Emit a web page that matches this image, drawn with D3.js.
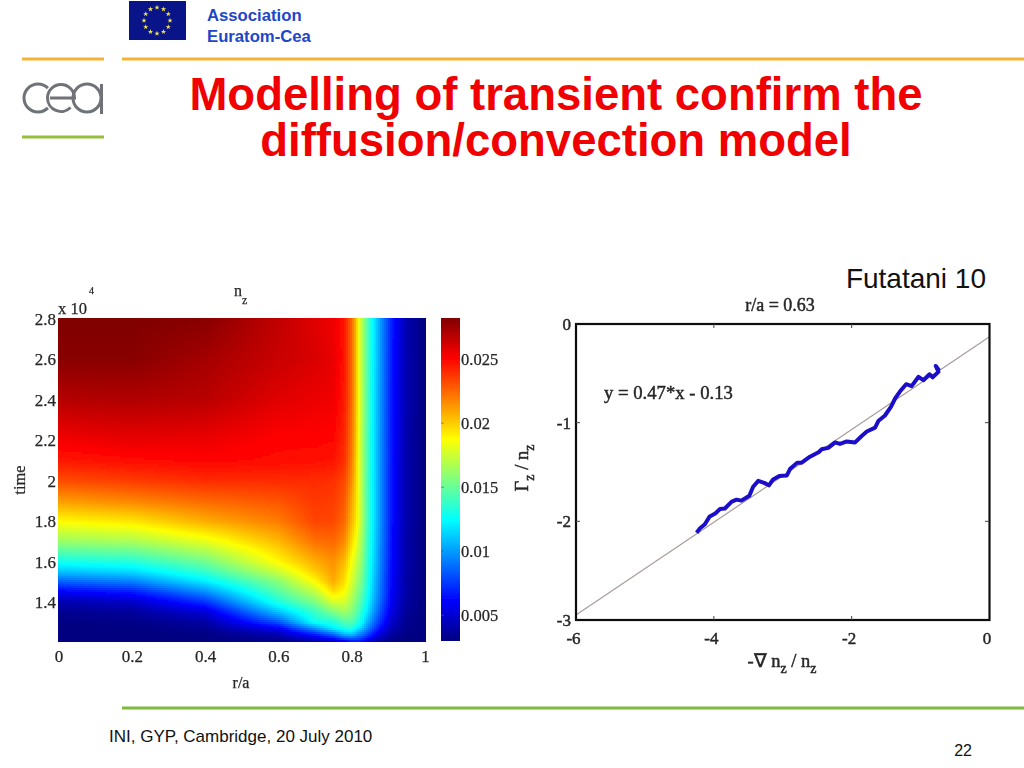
<!DOCTYPE html>
<html><head><meta charset="utf-8">
<script src="https://cdn.jsdelivr.net/npm/d3@7"></script>
<style>
html,body{margin:0;padding:0;background:#fff;overflow:hidden}
svg{display:block}
text{font-family:"Liberation Sans",Arial,sans-serif}
.s text{font-family:"Liberation Serif","Times New Roman",serif;fill:#262626;stroke:#262626;stroke-width:.25}
.s.r text{stroke-width:.45}
</style></head><body>
<script>
// ---------- texts ----------
const titleLines = ["Modelling of transient confirm the", "diffusion/convection model"];
const assocLines = ["Association", "Euratom-Cea"];
const citation = "Futatani 10";
const footer = "INI, GYP, Cambridge, 20 July 2010";
const pageNumber = "22";
const fitLabel = "y = 0.47*x - 0.13";

// ---------- left panel: n_z(r/a, time), values in units of 1e-3 ----------
const radius = [0,.2,.4,.6,.7,.75,.78,.8,.81,.82,.83,.84,.86,.88,.91,.95,1];
const times  = [2.8,2.6,2.4,2.2,2.1,2,1.9,1.8,1.7,1.6,1.55,1.5,1.45,1.4,1.35,1.3,1.27,1.24,1.207];
const nz = [
 [28.2,28.2,28,26.6,25.8,25.4,24.6,22.5,20.8,18.4,16.8,15,12.2,9.8,6.8,4.2,3],
 [28,28,27.3,26.4,26,25.6,24.6,22.5,20.8,18.4,16.8,15,12.1,9.8,6.7,4.2,3],
 [26.9,27,26.8,25.8,25.5,25.4,24.4,22.5,20.8,18.5,16.8,15,12,9.7,6.6,4.2,3],
 [25.3,25.6,25.5,25,25,24.9,24.1,22.2,20.6,18.4,16.6,14.9,12,9.6,6.6,4.1,3],
 [24.5,24.8,25,24.8,24.7,24.6,23.9,22,20.4,18.3,16.6,14.9,12,9.6,6.5,4.1,3],
 [23.2,23.6,24,24,24,23.9,23.3,21.6,20.2,18.3,16.6,14.8,12,9.6,6.5,4.1,3],
 [21.2,21.8,22.5,23,23.7,23.6,22.9,21,19.9,18.2,16.6,14.8,12,9.6,6.5,4.1,3],
 [18.9,19.4,20.8,22,23.4,23.3,22.5,20.6,19.6,18.2,16.6,14.8,12,9.6,6.5,4.1,3],
 [16.3,16.7,18.2,20.5,22.3,22.5,21.7,19.7,18.8,17.5,16.2,14.5,11.8,9.5,6.4,4,3],
 [13,13.4,15.3,18.9,20.8,21.5,20.5,18.6,17.8,16.8,15.7,14.2,11.6,9.3,6.3,4,3],
 [11,11.6,13.8,17.5,20,21.2,20,18.2,17.4,16.4,15.4,14,11.4,9.2,6.2,4,3],
 [8.5,9.3,12,15.8,18.8,20.8,19.6,17.8,17,16,15,13.8,11.2,9,6.1,3.9,3],
 [6,6.8,9.7,14.6,17.2,19.6,18.8,17.3,16.4,15.5,14.6,13.4,11,8.9,6,3.9,3],
 [4.2,4.8,7.4,13.2,15.6,17.8,17.8,16.6,15.8,15,14,13,10.6,8.6,5.8,3.8,3],
 [3.4,3.7,5.2,11,13.9,15.6,16.4,15.8,15,14.2,13.2,12.2,10,8,5.4,3.6,3],
 [3.1,3.2,3.9,8.2,12.8,13.3,14.5,14.6,14,13.3,12.3,11,9,7.2,4.8,3.4,3],
 [3,3,3.5,6,10,12.2,13.2,13.5,12.6,11.9,11,9.9,8,6.4,4.4,3.3,3],
 [3,3,3.1,4.3,7,8.8,10.8,11,10.4,9.6,9,8.2,6.7,5.2,3.8,3.1,3],
 [3,3,3,3.3,4.3,5.2,6.2,7,7,6.9,6.5,6,4.8,4,3.2,3,3]
];
const xTicksL = [0,.2,.4,.6,.8,1];
const yTicksL = [1.4,1.6,1.8,2,2.2,2.4,2.6,2.8];
const cbTicks = [5,10,15,20,25];
const cbRange = [3,28.2];

// ---------- right panel ----------
const fluxX = [-4.25,-4.2,-4.13,-4.06,-3.98,-3.91,-3.84,-3.74,-3.67,-3.6,-3.485,-3.43,-3.355,-3.27,-3.2,-3.14,-3.05,-2.94,-2.895,-2.79,-2.725,-2.605,-2.48,-2.435,-2.34,-2.24,-2.17,-2.07,-1.95,-1.855,-1.78,-1.66,-1.61,-1.52,-1.43,-1.37,-1.3,-1.21,-1.13,-1.03,-.96,-.87,-.825,-.74,-.78,-.73];
const fluxY = [-2.115,-2.07,-2.03,-1.95,-1.92,-1.875,-1.87,-1.8,-1.78,-1.79,-1.74,-1.65,-1.59,-1.61,-1.635,-1.575,-1.54,-1.535,-1.47,-1.405,-1.405,-1.345,-1.3,-1.27,-1.255,-1.2,-1.215,-1.19,-1.2,-1.135,-1.09,-1.05,-.98,-.93,-.84,-.755,-.685,-.61,-.63,-.535,-.57,-.51,-.54,-.485,-.425,-.47];
const fitX = [-6,0];
const fitY = [-2.95,-.13];
const xTicksR = [-6,-4,-2,0];
const yTicksR = [0,-1,-2,-3];

// ---------- page ----------
const svg = d3.select("body").append("svg").attr("width",1024).attr("height",768);
svg.append("rect").attr("width",1024).attr("height",768).attr("fill","#fff");
const defs = svg.append("defs");
defs.append("filter").attr("id","soft").attr("filterUnits","userSpaceOnUse").attr("x",0).attr("y",270).attr("width",1024).attr("height",430)
 .append("feGaussianBlur").attr("stdDeviation",0.45);

// rules
const rules = [[122,1024,59,"#f5b335",3],[22,104,59,"#f5b335",3],[22,104,137,"#97bf3d",3],[122,1024,708,"#7db93f",3]];
svg.selectAll("line.rule").data(rules).join("line").attr("class","rule")
 .attr("x1",d=>d[0]).attr("x2",d=>d[1]).attr("y1",d=>d[2]).attr("y2",d=>d[2])
 .attr("stroke",d=>d[3]).attr("stroke-width",d=>d[4]);

// EU flag
svg.append("rect").attr("x",129).attr("y",1).attr("width",57).attr("height",39).attr("fill","#0a1489");
const star = d3.symbol().type(d3.symbolStar).size(9)();
svg.selectAll("path.star").data(d3.range(12)).join("path").attr("class","star").attr("d",star).attr("fill","#f4e64a")
 .attr("transform",i=>`translate(${157+13*Math.sin(i*Math.PI/6)},${20.5-13*Math.cos(i*Math.PI/6)})`);

svg.selectAll("text.assoc").data(assocLines).join("text").attr("class","assoc").text(d=>d)
 .attr("x",207).attr("y",(d,i)=>21+i*21).attr("font-weight","bold").attr("fill","#1f46c8")
 .style("font-size","16.7px");

// CEA logo
const logo = svg.append("g").attr("fill","none").attr("stroke","#6f7377").attr("stroke-width",3);
const deg=Math.PI/180;
{const p=d3.path();p.arc(38,98,14,-45*deg,45*deg,true);logo.append("path").attr("d",p.toString());}
{const p=d3.path();p.moveTo(50,98);p.lineTo(74.5,98);p.arc(61,98,13.5,0,-180*deg,true);p.arc(61,98,13.5,180*deg,45*deg,true);logo.append("path").attr("d",p.toString());}
{const p=d3.path();p.arc(87,98,14,0,360*deg);logo.append("path").attr("d",p.toString());}
logo.append("line").attr("x1",101.5).attr("x2",101.5).attr("y1",84).attr("y2",114);

// titles
svg.selectAll("text.title").data(titleLines).join("text").attr("class","title").text(d=>d)
 .attr("x",556).attr("y",(d,i)=>110+i*46).attr("text-anchor","middle")
 .attr("font-weight","bold").style("font-size","45.5px").attr("fill","#f00000");
svg.append("text").text(citation).attr("x",986).attr("y",288).attr("text-anchor","end").style("font-size","28px").attr("fill","#111");
svg.append("text").text(footer).attr("x",109).attr("y",742).style("font-size","17px").attr("fill","#111");
svg.append("text").text(pageNumber).attr("x",972).attr("y",756).attr("text-anchor","end").style("font-size","16px").attr("fill","#111");

// jet colormap through a d3 scale
const jetT=[0,.125,.375,.625,.875,1];
const jetC=["#000080","#0000ff","#00ffff","#ffff00","#ff0000","#800000"];
const color=d3.scaleLinear().domain(jetT.map(t=>cbRange[0]+t*(cbRange[1]-cbRange[0]))).range(jetC).clamp(true);

// left panel
const L=svg.append("g").attr("class","s").attr("filter","url(#soft)");
const xL=d3.scaleLinear().domain([0,1]).range([58.5,425]);
const yL=d3.scaleLinear().domain([1.207,2.8]).range([641,319]);
const iCol=d3.scaleLinear().domain(radius).range(d3.range(radius.length));
const iRow=d3.scaleLinear().domain(times).range(d3.range(times.length));
function sample(r,t){
 const c=Math.min(Math.max(iCol(r),0),radius.length-1.0001), w=Math.min(Math.max(iRow(t),0),times.length-1.0001);
 const c0=Math.floor(c), r0=Math.floor(w), fc=c-c0, fr=w-r0;
 return d3.interpolateNumber(
   d3.interpolateNumber(nz[r0][c0],nz[r0][c0+1])(fc),
   d3.interpolateNumber(nz[r0+1][c0],nz[r0+1][c0+1])(fc))(fr);
}
const cell=2, cells=[];
for(let px=58;px<425;px+=cell)for(let py=318;py<641;py+=cell)cells.push([px,py]);
L.append("g").attr("shape-rendering","crispEdges").selectAll("rect").data(cells).join("rect")
 .attr("x",d=>d[0]).attr("y",d=>d[1]).attr("width",cell).attr("height",cell)
 .attr("fill",d=>color(sample(xL.invert(d[0]+1),yL.invert(d[1]+1))));

const axL=L.append("g").attr("transform","translate(0,658)").call(d3.axisBottom(xL).tickValues(xTicksL).tickFormat(d3.format("~g")).tickSize(0));
axL.select(".domain").remove();axL.selectAll("text").attr("dy",0).attr("y",0).attr("dominant-baseline","middle").style("font-size","17px");
const ayL=L.append("g").attr("transform","translate(56,0)").call(d3.axisLeft(yL).tickValues(yTicksL).tickFormat(d3.format("~g")).tickSize(0));
ayL.select(".domain").remove();ayL.selectAll("text").attr("x",0).style("font-size","17px");

L.append("text").text("time").attr("transform","translate(25,480) rotate(-90)").attr("text-anchor","middle").style("font-size","16.5px");
L.append("text").text("r/a").attr("x",241).attr("y",688).attr("text-anchor","middle").style("font-size","16px");
L.append("text").attr("x",234).attr("y",296).style("font-size","16px").text("n");
L.append("text").attr("x",242).attr("y",304).style("font-size","12px").text("z");
L.append("text").text("x 10").attr("x",58).attr("y",314).style("font-size","16.5px");
L.append("text").text("4").attr("x",89).attr("y",294).style("font-size","10px");

// colourbar
const yCb=d3.scaleLinear().domain(cbRange).range([641,318]);
L.append("g").attr("shape-rendering","crispEdges").selectAll("rect").data(d3.range(318,641)).join("rect")
 .attr("x",441).attr("width",19).attr("y",d=>d).attr("height",1).attr("fill",d=>color(yCb.invert(d+.5)));
const ayC=L.append("g").attr("transform","translate(461,0)").call(d3.axisRight(yCb).tickValues(cbTicks).tickFormat(d=>d3.format("~g")(d/1000)).tickSize(0));
ayC.select(".domain").remove();ayC.selectAll("text").attr("x",0).style("font-size","16.5px");
L.selectAll("line.cbt").data(cbTicks).join("line").attr("class","cbt").attr("x1",441).attr("x2",444).attr("y1",d=>yCb(d)).attr("y2",d=>yCb(d)).attr("stroke","#555").attr("stroke-width",.6);

// right panel
const R=svg.append("g").attr("class","s r").attr("filter","url(#soft)");
const xR=d3.scaleLinear().domain([-6,0]).range([576,989.5]);
const yR=d3.scaleLinear().domain([-3,0]).range([620,324]);
const xyLine=d3.line().x(d=>xR(d[0])).y(d=>yR(d[1]));
R.append("path").attr("d",xyLine(d3.zip(fitX,fitY))).attr("fill","none").attr("stroke","#a89c9a").attr("stroke-width",1.2);
R.append("path").attr("d",xyLine(d3.zip(fluxX,fluxY))).attr("fill","none").attr("stroke","#1a10c8").attr("stroke-width",4).attr("stroke-linejoin","round");
R.append("rect").attr("x",576).attr("y",324).attr("width",413.5).attr("height",296).attr("fill","none").attr("stroke","#111").attr("stroke-width",2.2);
const tk=R.append("g").attr("stroke","#444").attr("stroke-width",1);
[-4,-2].forEach(v=>{tk.append("line").attr("x1",xR(v)).attr("x2",xR(v)).attr("y1",620).attr("y2",616);tk.append("line").attr("x1",xR(v)).attr("x2",xR(v)).attr("y1",324).attr("y2",328);});
[-1,-2].forEach(v=>{tk.append("line").attr("y1",yR(v)).attr("y2",yR(v)).attr("x1",576).attr("x2",580);tk.append("line").attr("y1",yR(v)).attr("y2",yR(v)).attr("x1",989).attr("x2",985);});
const hy=v=>String(v).replace("−","-");
const axR=R.append("g").attr("transform","translate(-3,640)").call(d3.axisBottom(xR).tickValues(xTicksR).tickFormat(hy).tickSize(0));
axR.select(".domain").remove();axR.selectAll("text").attr("y",0).attr("dy",0).attr("dominant-baseline","middle").style("font-size","17px");
const ayR=R.append("g").attr("transform","translate(571,0)").call(d3.axisLeft(yR).tickValues(yTicksR).tickFormat(hy).tickSize(0));
ayR.select(".domain").remove();ayR.selectAll("text").attr("x",0).style("font-size","17px");
R.append("text").text("r/a = 0.63").attr("x",780).attr("y",311).attr("text-anchor","middle").style("font-size","18px");
R.append("text").text(fitLabel).attr("x",604).attr("y",399).style("font-size","18.7px");
const xl=R.append("text").attr("x",782).attr("y",667).attr("text-anchor","middle").style("font-size","18.5px");
xl.append("tspan").text("-∇ n");xl.append("tspan").text("z").attr("dy",6).style("font-size","14px");xl.append("tspan").text(" / n").attr("dy",-6);xl.append("tspan").text("z").attr("dy",6).style("font-size","14px");
const yl=R.append("text").attr("transform","translate(528,468) rotate(-90)").attr("text-anchor","middle").style("font-size","18.5px");
yl.append("tspan").text("Γ");yl.append("tspan").text("z").attr("dy",6).style("font-size","14px");yl.append("tspan").text(" / n").attr("dy",-6);yl.append("tspan").text("z").attr("dy",6).style("font-size","14px");
</script>
</body></html>
